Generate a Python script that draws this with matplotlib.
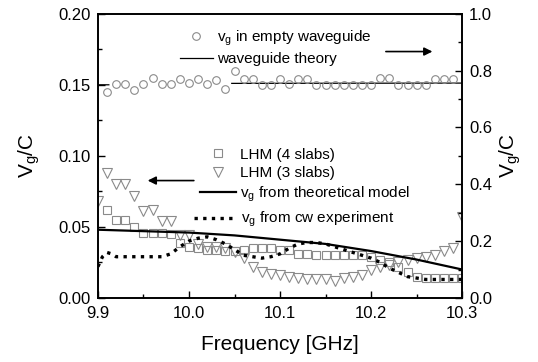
import numpy as np
import matplotlib
matplotlib.use("Agg")
import matplotlib.pyplot as plt
from matplotlib.lines import Line2D
from matplotlib.legend import Legend
from matplotlib.ticker import MultipleLocator

plt.rcParams['font.family'] = ['Liberation Sans', 'DejaVu Sans']
plt.rcParams['mathtext.fontset'] = 'custom'
plt.rcParams['mathtext.rm'] = 'Liberation Sans'
plt.rcParams['mathtext.it'] = 'Liberation Sans'

# ---- data ----
# empty waveguide (right axis)
f_empty = [9.91, 9.92, 9.93, 9.94, 9.95, 9.96, 9.97, 9.98, 9.99, 10.00,
           10.01, 10.02, 10.03, 10.04, 10.05, 10.06, 10.07, 10.08, 10.09, 10.10,
           10.11, 10.12, 10.13, 10.14, 10.15, 10.16, 10.17, 10.18, 10.19, 10.20,
           10.21, 10.22, 10.23, 10.24, 10.25, 10.26, 10.27, 10.28, 10.29]
vg_empty = [0.723, 0.754, 0.754, 0.733, 0.754, 0.774, 0.754, 0.754, 0.771, 0.756,
            0.771, 0.754, 0.768, 0.735, 0.797, 0.771, 0.771, 0.750, 0.750, 0.771,
            0.754, 0.771, 0.771, 0.750, 0.750, 0.750, 0.750, 0.750, 0.750, 0.750,
            0.774, 0.774, 0.750, 0.750, 0.750, 0.750, 0.771, 0.771, 0.771]
# waveguide theory (right axis), drawn with a gap as in the original
f_wg_theory = [9.90, 9.912, np.nan, 10.047, 10.30]
vg_wg_theory = [0.750, 0.750, np.nan, 0.755, 0.756]

# LHM 4 slabs
f_4slab = [9.91, 9.92, 9.93, 9.94, 9.95, 9.96, 9.97, 9.98, 9.99, 10.00,
           10.01, 10.02, 10.03, 10.04, 10.05, 10.06, 10.07, 10.08, 10.09, 10.10,
           10.11, 10.12, 10.13, 10.14, 10.15, 10.16, 10.17, 10.18, 10.19, 10.20,
           10.21, 10.22, 10.23, 10.24, 10.25, 10.26, 10.27, 10.28, 10.29, 10.30]
vg_4slab = [0.062, 0.055, 0.055, 0.050, 0.046, 0.046, 0.046, 0.045, 0.039, 0.036,
            0.035, 0.034, 0.034, 0.033, 0.033, 0.034, 0.035, 0.035, 0.035, 0.034,
            0.034, 0.031, 0.031, 0.030, 0.030, 0.030, 0.030, 0.030, 0.030, 0.029,
            0.027, 0.025, 0.022, 0.018, 0.015, 0.014, 0.014, 0.014, 0.014, 0.014]

# LHM 3 slabs
f_3slab = [9.90, 9.91, 9.92, 9.93, 9.94, 9.95, 9.96, 9.97, 9.98, 9.99, 10.00,
           10.01, 10.02, 10.03, 10.04, 10.05, 10.06, 10.07, 10.08, 10.09, 10.10,
           10.11, 10.12, 10.13, 10.14, 10.15, 10.16, 10.17, 10.18, 10.19, 10.20,
           10.21, 10.22, 10.23, 10.24, 10.25, 10.26, 10.27, 10.28, 10.29, 10.30]
vg_3slab = [0.068, 0.088, 0.080, 0.080, 0.072, 0.061, 0.062, 0.054, 0.054, 0.044, 0.044,
            0.038, 0.036, 0.036, 0.035, 0.032, 0.028, 0.022, 0.018, 0.017, 0.016,
            0.015, 0.014, 0.013, 0.013, 0.013, 0.012, 0.014, 0.015, 0.016, 0.020,
            0.022, 0.023, 0.025, 0.027, 0.028, 0.029, 0.030, 0.033, 0.035, 0.057]

# theoretical model
f_theory = [9.90, 9.95, 10.00, 10.05, 10.10, 10.15, 10.20, 10.25, 10.30]
vg_theory = [0.048, 0.047, 0.046, 0.044, 0.041, 0.038, 0.033, 0.027, 0.020]

# cw experiment
f_cw = [9.900, 9.905, 9.910, 9.915, 9.920, 9.93, 9.94, 9.95, 9.96, 9.97, 9.98,
        9.99, 10.00, 10.01, 10.02, 10.03, 10.04, 10.05, 10.06, 10.07, 10.08,
        10.09, 10.10, 10.11, 10.12, 10.13, 10.14, 10.15, 10.16, 10.17, 10.18,
        10.19, 10.20, 10.21, 10.22, 10.23, 10.24, 10.25, 10.26, 10.27, 10.28,
        10.29, 10.30]
vg_cw = [0.022, 0.029, 0.032, 0.031, 0.029, 0.029, 0.029, 0.029, 0.029, 0.029, 0.031,
         0.036, 0.040, 0.042, 0.043, 0.041, 0.038, 0.034, 0.030, 0.029, 0.028,
         0.029, 0.031, 0.035, 0.038, 0.039, 0.039, 0.038, 0.036, 0.034, 0.032,
         0.030, 0.028, 0.025, 0.021, 0.018, 0.015, 0.014, 0.013, 0.013, 0.013,
         0.013, 0.013]

x_ticks = [9.9, 10.0, 10.1, 10.2, 10.3]
x_ticklabels = ['9.9', '10.0', '10.1', '10.2', '10.3']
yl_ticks = [0.00, 0.05, 0.10, 0.15, 0.20]
yr_ticks = [0.0, 0.2, 0.4, 0.6, 0.8, 1.0]

gray = '#8a8a8a'

fig = plt.figure(figsize=(5.38, 3.62), dpi=100)
ax = fig.add_axes([0.182, 0.177, 0.677, 0.785])
ax2 = ax.twinx()

ax.plot(f_4slab, vg_4slab, ls='none', marker='s', ms=5.5, mfc='none', mec=gray, mew=0.8)
ax.plot(f_3slab, vg_3slab, ls='none', marker='v', ms=7, mfc='none', mec=gray, mew=0.8)
ax.plot(f_theory, vg_theory, color='black', lw=1.6)
ax.plot(f_cw, vg_cw, color='black', lw=2.4, ls=(0, (1, 1.6)))

ax2.plot(f_wg_theory, vg_wg_theory, color='black', lw=0.9)
ax2.plot(f_empty, vg_empty, ls='none', marker='o', ms=5.5, mfc='none', mec=gray, mew=0.8)

ax.set_xlim(9.9, 10.3)
ax.set_ylim(0, 0.2)
ax2.set_ylim(0, 1.0)
ax.set_xticks(x_ticks)
ax.set_xticklabels(x_ticklabels)
ax.set_yticks(yl_ticks)
ax.set_yticklabels(['0.00', '0.05', '0.10', '0.15', '0.20'])
ax2.set_yticks(yr_ticks)
ax2.set_yticklabels(['0.0', '0.2', '0.4', '0.6', '0.8', '1.0'])
ax.xaxis.set_minor_locator(MultipleLocator(0.05))
ax.yaxis.set_minor_locator(MultipleLocator(0.025))
ax2.yaxis.set_minor_locator(MultipleLocator(0.1))
for a in (ax, ax2):
    a.tick_params(which='both', direction='in', labelsize=12, width=1)
    a.tick_params(which='major', length=5)
    a.tick_params(which='minor', length=3)
    for s in a.spines.values():
        s.set_linewidth(1.2)
ax.tick_params(axis='x', which='both', top=False, pad=6)
ax.tick_params(axis='y', which='both', pad=5)
ax2.tick_params(axis='y', which='both', pad=5)

ax.set_xlabel('Frequency [GHz]', fontsize=15, labelpad=10)
ax.set_ylabel(r'V$_{\mathregular{g}}$/C', fontsize=15, labelpad=12)
ax2.set_ylabel(r'V$_{\mathregular{g}}$/C', fontsize=15, labelpad=4, rotation=90)


# legend rows, each placed like in the original figure
def legend_row(handle, label, x0, y0, hl):
    leg = Legend(ax2, [handle], [label], loc='center left', bbox_to_anchor=(x0, y0),
                 borderaxespad=0, borderpad=0, frameon=False, fontsize=11,
                 handlelength=hl, handletextpad=0.3)
    ax2.add_artist(leg)


legend_row(Line2D([], [], ls='none', marker='o', ms=5.5, mfc='none', mec=gray, mew=0.8),
           r'v$_{\mathregular{g}}$ in empty waveguide', 0.225, 0.915, 2.16)
legend_row(Line2D([], [], color='black', lw=0.9),
           'waveguide theory', 0.225, 0.84, 2.16)
legend_row(Line2D([], [], ls='none', marker='s', ms=5.5, mfc='none', mec=gray, mew=0.8),
           'LHM (4 slabs)', 0.28, 0.5035, 2.35)
legend_row(Line2D([], [], ls='none', marker='v', ms=7, mfc='none', mec=gray, mew=0.8),
           'LHM (3 slabs)', 0.28, 0.439, 2.35)
legend_row(Line2D([], [], color='black', lw=1.6),
           r'v$_{\mathregular{g}}$ from theoretical model', 0.28, 0.365, 2.35)
legend_row(Line2D([], [], color='black', lw=2.4, ls=(0, (1, 1.6))),
           r'v$_{\mathregular{g}}$ from cw experiment', 0.265, 0.275, 2.75)

# arrows
ax2.annotate('', xy=(0.926, 0.867), xytext=(0.783, 0.867), xycoords='axes fraction',
             arrowprops=dict(arrowstyle='-|>', color='black', lw=1.2, mutation_scale=12))
ax.annotate('', xy=(0.129, 0.413), xytext=(0.271, 0.413), xycoords='axes fraction',
            arrowprops=dict(arrowstyle='-|>', color='black', lw=1.2, mutation_scale=12))

fig.savefig('out.png', dpi=100)
